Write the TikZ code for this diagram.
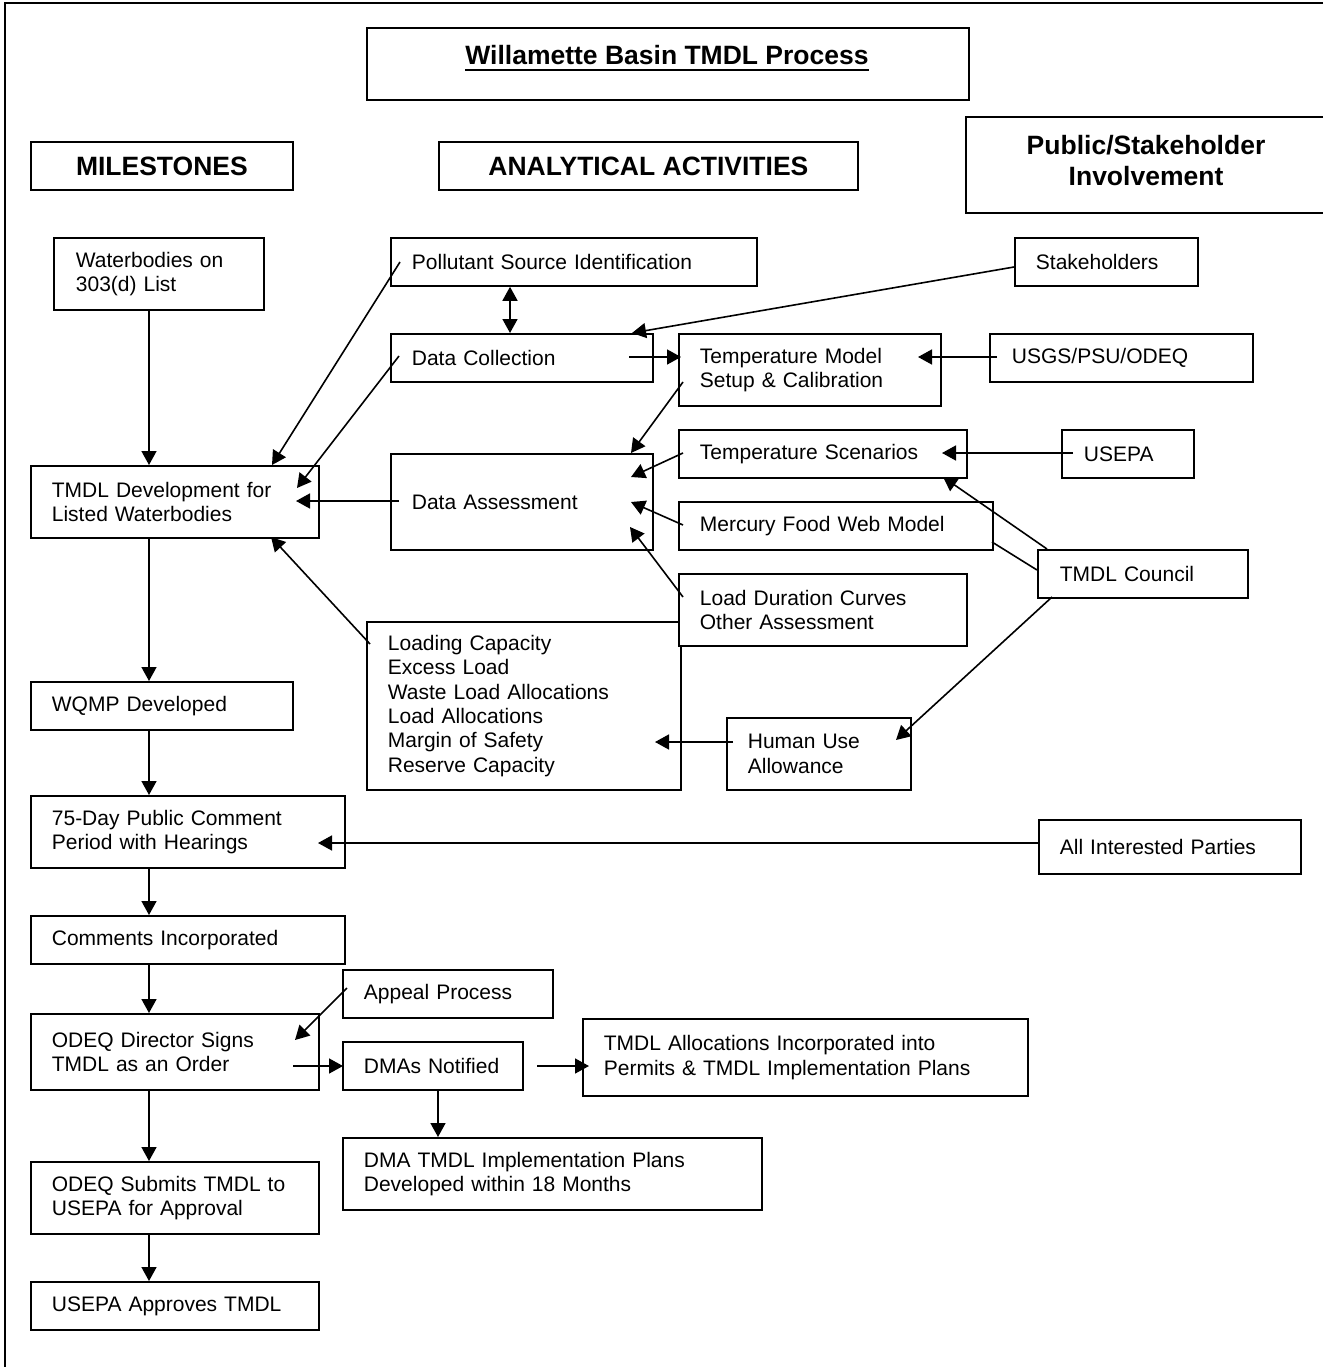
\documentclass[tikz,border=0pt]{standalone}
\usepackage{fontspec}
\setmainfont{Liberation Sans}
\usetikzlibrary{arrows.meta,calc}
\newcommand\bodyfont{\fontsize{21}{24.4}\selectfont}
\newcommand\hdrfont{\fontsize{26.5}{31}\selectfont\bfseries}
\newcommand\mybox[7]{%
  \pgfmathsetmacro\mytw{#4-2*#6}%
  \node[box, inner xsep=#6pt, text width=\mytw pt, minimum height=#5pt] (#1) at (#2,#3) {#7};}
\begin{document}
\begin{tikzpicture}[x=1pt,y=-1pt,
  box/.style={draw, line width=1.8pt, fill=white, anchor=north west, align=left, inner ysep=0pt, font=\bodyfont},
  hbox/.style={draw, line width=1.8pt, anchor=north west, align=center, inner sep=0pt, font=\hdrfont},
  arr/.style={line width=1.6pt, -{Triangle[length=14pt,width=15pt]}},
  dbl/.style={line width=1.6pt, {Triangle[length=14pt,width=15pt]}-{Triangle[length=14pt,width=15pt]}},
  plainln/.style={line width=1.6pt}]
\useasboundingbox (0,0) rectangle (1323,1367);
% outer frame (top and left only)
\draw[line width=1.8pt] (1323,3) -- (5,3) -- (5,1367);
% title
\node[hbox, minimum width=602pt, minimum height=72pt] (titlebox) at (366,27) {};
\node[inner sep=0pt, anchor=base, font=\hdrfont] (ttl) at (667,65) {Willamette Basin TMDL Process};
\draw[line width=2pt] ($(ttl.base west)+(0,5)$) -- ($(ttl.base east)+(0,5)$);
% column headers
\node[hbox, minimum width=262pt, minimum height=48pt] (ms) at (30,141) {\raisebox{-2pt}{MILESTONES}};
\node[hbox, minimum width=419pt, minimum height=48pt] (aa) at (438,141) {\raisebox{-2pt}{ANALYTICAL ACTIVITIES}};
\draw[line width=1.8pt] (1323,117) -- (966,117) -- (966,213) -- (1323,213);
\node[align=center, inner sep=0pt, font=\hdrfont] (pub) at (1146,161) {Public/Stakeholder\\Involvement};
% boxes
\mybox{wb}{53}{237}{210}{72}{22}{Waterbodies on\\303(d) List}
\mybox{psi}{390}{237}{366}{48}{21}{Pollutant Source Identification}
\mybox{dc}{390}{333}{262}{48}{21}{Data Collection}
\mybox{tm}{678}{333}{262}{72}{21}{Temperature Model\\Setup \& Calibration}
\mybox{da}{390}{453}{262}{96}{21}{Data Assessment}
\mybox{ts}{678}{429}{288}{48}{21}{Temperature Scenarios}
\mybox{mf}{678}{501}{314}{48}{21}{Mercury Food Web Model}
\mybox{lc}{366}{621}{314}{168}{21}{Loading Capacity\\Excess Load\\Waste Load Allocations\\Load Allocations\\Margin of Safety\\Reserve Capacity}
\mybox{ldc}{678}{573}{288}{72}{21}{Load Duration Curves\\Other Assessment}
\mybox{tmdl}{30}{465}{288}{72}{21}{TMDL Development for\\Listed Waterbodies}
\mybox{sh}{1014}{237}{183}{48}{21}{Stakeholders}
\mybox{usgs}{989}{333}{263}{48}{22}{USGS/PSU/ODEQ}
\mybox{usepa}{1061}{429}{132}{48}{22}{USEPA}
\mybox{tc}{1037}{549}{210}{48}{22}{TMDL Council}
\mybox{hua}{726}{717}{184}{72}{21}{Human Use\\Allowance}
\mybox{aip}{1038}{819}{262}{54}{21}{All Interested Parties}
\mybox{wqmp}{30}{681}{262}{48}{21}{WQMP Developed}
\mybox{pc}{30}{795}{314}{72}{21}{75-Day Public Comment\\Period with Hearings}
\mybox{ci}{30}{915}{314}{48}{21}{Comments Incorporated}
\mybox{ap}{342}{969}{210}{48}{21}{Appeal Process}
\mybox{od}{30}{1013}{288}{76}{21}{ODEQ Director Signs\\TMDL as an Order}
\mybox{dma}{342}{1041}{180}{48}{21}{DMAs Notified}
\mybox{alloc}{582}{1018}{445}{77}{21}{TMDL Allocations Incorporated into\\Permits \& TMDL Implementation Plans}
\mybox{impl}{342}{1137}{419}{72}{21}{DMA TMDL Implementation Plans\\Developed within 18 Months}
\mybox{sub}{30}{1161}{288}{72}{21}{ODEQ Submits TMDL to\\USEPA for Approval}
\mybox{appr}{30}{1281}{288}{48}{21}{USEPA Approves TMDL}
% column coordinates
\coordinate (colL) at (149,0);
\coordinate (colP) at (510,0);
\coordinate (colD) at (438,0);
% milestone chain
\draw[arr] (wb.south -| colL) -- (tmdl.north -| colL);
\draw[arr] (tmdl.south -| colL) -- (wqmp.north -| colL);
\draw[arr] (wqmp.south -| colL) -- (pc.north -| colL);
\draw[arr] (pc.south -| colL) -- (ci.north -| colL);
\draw[arr] (ci.south -| colL) -- (od.north -| colL);
\draw[arr] (od.south -| colL) -- (sub.north -| colL);
\draw[arr] (sub.south -| colL) -- (appr.north -| colL);
% analytical
\draw[arr] ($(psi.north west)+(10,25)$) -- ($(tmdl.north west)+(242,0)$);
\draw[arr] ($(dc.north west)+(9,23)$) -- ($(tmdl.north west)+(267,23)$);
\draw[dbl] (psi.south -| colP) -- (dc.north -| colP);
\draw[arr] ($(sh.north west)+(0,30)$) -- ($(dc.north west)+(242,0)$);
\draw[arr] ($(dc.north west)+(239,24)$) -- ($(tm.north west)+(3,24)$);
\draw[arr] ($(usgs.north west)+(8,24)$) -- ($(tm.north west)+(240,24)$);
\draw[arr] ($(tm.north west)+(5,49)$) -- ($(da.north west)+(241,0)$);
\draw[arr] ($(ts.north west)+(5,24)$) -- ($(da.north west)+(241,24)$);
\draw[arr] ($(mf.north west)+(5,24)$) -- ($(da.north west)+(241,49)$);
\draw[arr] ($(ldc.north west)+(5,24)$) -- ($(da.north west)+(240,74)$);
\draw[arr] ($(da.north west)+(9,48)$) -- ($(tmdl.north west)+(266,36)$);
\draw[arr] ($(lc.north west)+(4,23)$) -- ($(tmdl.north west)+(241,72)$);
\draw[arr] ($(usepa.north west)+(12,24)$) -- ($(ts.north west)+(264,24)$);
\draw[arr] ($(tc.north west)+(10,0)$) -- ($(ts.north west)+(265,48)$);
\draw[plainln] ($(tc.north west)+(0,21)$) -- ($(mf.north west)+(314,41)$);
\draw[arr] ($(tc.north west)+(15,48)$) -- ($(hua.north west)+(170,23)$);
\draw[arr] ($(hua.north west)+(7,25)$) -- ($(lc.north west)+(289,121)$);
\draw[arr] ($(aip.north west)+(0,24)$) -- ($(pc.north west)+(288,48)$);
% lower
\draw[arr] ($(ap.north west)+(5,19)$) -- ($(od.north west)+(265,27)$);
\draw[arr] ($(od.north west)+(263,53)$) -- ($(dma.north west)+(1,25)$);
\draw[arr] ($(dma.north west)+(195,25)$) -- ($(alloc.north west)+(7,48)$);
\draw[arr] (dma.south -| colD) -- (impl.north -| colD);
\end{tikzpicture}
\end{document}
